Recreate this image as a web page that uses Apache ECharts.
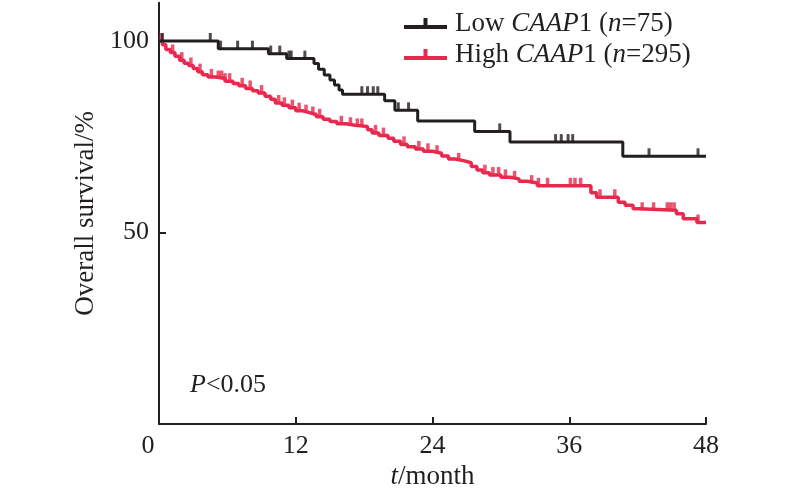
<!DOCTYPE html>
<html>
<head>
<meta charset="utf-8">
<script src="https://cdn.jsdelivr.net/npm/echarts@6/dist/echarts.min.js"></script>
<style>html,body{margin:0;padding:0;background:#fff}#c{width:794px;height:498px}</style>
</head>
<body>
<div id="c"></div>
<script>
// ---- data ----
const xTicks = [0, 12, 24, 36, 48];
const yTickLabels = [50, 100];
const lowName = 'Low';
const highName = 'High';
// Kaplan-Meier steps: [month, survival %] (value after the event)
const lowSteps = [[0,100],[5.2,98.0],[9.6,96.7],[11.2,95.4],[13.6,94.1],[14.0,92.6],[14.5,91.1],[15.0,89.8],[15.4,88.5],[15.8,87.2],[16.1,86.1],[19.8,84.4],[20.7,81.9],[22.7,79.1],[27.7,76.4],[30.8,73.6],[40.7,69.9],[48,69.9]];
const highSteps = [[0,100],[0.3,99.0],[0.6,97.8],[1.0,97.0],[1.4,96.0],[1.8,95.0],[2.2,94.2],[2.6,93.6],[3.0,92.8],[3.4,92.0],[3.8,91.2],[4.3,90.6],[5.0,90.2],[5.8,89.5],[6.5,88.9],[7.0,88.3],[7.6,87.6],[8.2,87.0],[8.7,86.4],[9.3,85.6],[9.8,84.8],[10.2,83.8],[10.8,83.2],[11.4,82.6],[12.0,81.8],[12.6,81.3],[13.2,80.8],[13.8,80.2],[14.4,79.6],[15.0,79.0],[15.6,78.4],[16.4,78.0],[17.2,77.7],[18.3,76.8],[18.7,76.0],[19.3,75.3],[20.1,74.6],[20.6,73.8],[21.2,73.0],[21.8,72.4],[22.5,71.8],[23.2,71.2],[24.0,70.7],[24.8,70.0],[25.4,69.2],[26.0,68.7],[26.8,68.2],[27.4,67.2],[27.9,66.3],[28.4,65.6],[29.0,65.0],[30.0,64.4],[30.8,64.0],[31.6,63.4],[32.3,62.9],[33.2,62.2],[37.9,60.4],[38.4,59.2],[40.3,57.9],[40.9,57.1],[41.6,56.2],[42.1,55.8],[45.4,54.9],[46.0,53.6],[47.2,52.6],[48,52.6]];
// censoring times (months)
const lowCensor = [0.3,4.5,5.4,6.9,8.2,9.8,10.6,11.4,11.6,12.8,17.8,18.3,18.8,19.2,21.0,21.9,29.9,34.8,35.3,35.9,36.3,43.0,47.3];
const highCensor = [0.2,1.2,2.0,2.8,3.6,4.6,5.2,5.5,5.8,6.2,7.3,8.0,9.0,10.5,11.0,11.7,12.3,12.9,13.5,14.1,16.0,16.8,17.4,17.8,19.0,19.7,21.5,22.8,23.6,24.4,26.3,28.6,29.3,29.8,30.4,31.2,32.7,33.3,34.1,36.1,36.5,37.0,38.7,40.0,42.4,43.4,44.6,44.9,45.2,47.3];

// ---- chart ----
const FONT = 'Liberation Serif';
const BLACK = '#231f20';
const RED = '#e8294d';
const FS = 26;
const FSL = 27;

function survAt(steps, t) {
  let v = steps[0][1];
  for (const s of steps) { if (s[0] <= t) v = s[1]; else break; }
  return v;
}
const lowCens = lowCensor.map(t => [t, survAt(lowSteps, t)]);
const highCens = highCensor.map(t => [t, survAt(highSteps, t)]);

const iconPath = 'path://M0,7H43V11H0Z M19.5,0H23.5V7H19.5Z';
const italic = {fontStyle: 'italic', fontFamily: FONT, fontSize: FS, color: BLACK};
const italicL = {fontStyle: 'italic', fontFamily: FONT, fontSize: FSL, color: BLACK};

const chart = echarts.init(document.getElementById('c'), null, {renderer: 'canvas'});
chart.setOption({
  animation: false,
  backgroundColor: '#fff',
  grid: {left: 159, right: 88, top: 2.7, bottom: 74, containLabel: false},
  title: {
    text: '{i|P}<0.05', left: 185, top: 367,
    textStyle: {fontFamily: FONT, fontSize: FS, fontWeight: 'normal', color: BLACK, rich: {i: italic}}
  },
  legend: {
    orient: 'vertical', left: 399, top: 5, itemGap: 4,
    itemWidth: 43, itemHeight: 11,
    data: [{name: lowName, icon: iconPath, itemStyle: {color: BLACK}}, {name: highName, icon: iconPath, itemStyle: {color: RED}}],
    formatter: n => n === lowName ? 'Low {i|CAAP}1 ({i|n}=75)' : 'High {i|CAAP}1 ({i|n}=295)',
    textStyle: {fontFamily: FONT, fontSize: FSL, color: BLACK, lineHeight: 27, padding: [0, 0, 0, 3], rich: {i: italicL}}
  },
  xAxis: {
    type: 'value', min: 0, max: 48, interval: 12,
    name: '{i|t}/month', nameLocation: 'middle', nameGap: 31,
    nameTextStyle: {fontFamily: FONT, fontSize: FSL, color: BLACK, rich: {i: italicL}},
    axisLine: {show: true, lineStyle: {color: BLACK, width: 2}},
    axisTick: {show: true, inside: true, length: 7, lineStyle: {color: BLACK, width: 2}},
    axisLabel: {
      margin: 9, fontFamily: FONT, fontSize: FS, color: BLACK,
      formatter: v => v === 0 ? '{z|0}' : String(v),
      rich: {z: {fontFamily: FONT, fontSize: FS, color: BLACK, padding: [0, 22, 0, 0]}}
    },
    splitLine: {show: false}
  },
  yAxis: {
    type: 'value', min: 0, max: 110,
    name: 'Overall survival/%', nameLocation: 'middle', nameGap: 56,
    nameTextStyle: {fontFamily: FONT, fontSize: FSL, color: BLACK},
    axisLine: {show: true, lineStyle: {color: BLACK, width: 2}},
    axisTick: {show: true, inside: true, length: 7, customValues: [0, 50, 100], lineStyle: {color: BLACK, width: 2}},
    axisLabel: {margin: 10, fontFamily: FONT, fontSize: FS, color: BLACK, customValues: yTickLabels},
    splitLine: {show: false}
  },
  series: [
    {name: highName, type: 'line', step: 'end', data: highSteps, symbol: 'none', z: 2,
     lineStyle: {color: RED, width: 3.5}, itemStyle: {color: RED}},
    {name: 'highCens', type: 'scatter', data: highCens, symbol: 'rect', symbolSize: [3.5, 8], symbolOffset: [0, -4], z: 2,
     itemStyle: {color: RED}},
    {name: lowName, type: 'line', step: 'end', data: lowSteps, symbol: 'none', z: 3,
     lineStyle: {color: BLACK, width: 3}, itemStyle: {color: BLACK}},
    {name: 'lowCens', type: 'scatter', data: lowCens, symbol: 'rect', symbolSize: [3, 8], symbolOffset: [0, -4], z: 3,
     itemStyle: {color: BLACK}}
  ]
});
</script>
</body>
</html>
